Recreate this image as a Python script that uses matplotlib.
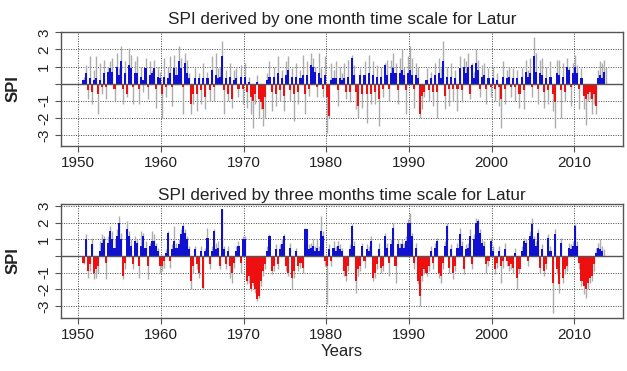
import numpy as np
import matplotlib
matplotlib.use("Agg")
import matplotlib.pyplot as plt

plt.rcParams['font.family'] = ['Liberation Sans', 'DejaVu Sans']

nan = np.nan
years = list(range(1950, 2014))

# ---- One-month SPI (quarterly readings: 4 values per year) ----
spi1_grey = [
    nan, nan, 0.4, 1.1,   -0.9, 1.6, -1.2, 0.8,   1.6, -1.8, 1.2, -0.6,   1.4, -0.9, 1.0, 1.3,
    1.5, -1.0, 1.8, 0.9,   2.2, -1.2, 1.3, -0.8,   2.1, 1.7, -1.2, 1.3,   1.6, -1.2, 1.0, -0.5,
    1.5, -0.9, 1.3, 0.8,   1.4, -1.4, 1.0, 0.7,   -2.0, 1.5, -0.8, 1.0,   1.6, -1.3, 1.7, 1.0,
    2.2, 1.5, -1.8, 1.8,   1.4, 0.6, -1.8, -1.2,   0.9, -1.6, 0.6, -1.2,   1.2, -1.5, 0.7, -1.0,
    1.6, -1.0, 1.8, 0.9,   1.0, 2.5, -1.8, 0.8,   -1.0, 1.2, -1.4, 0.8,   0.9, -0.8, 1.1, -1.2,
    1.2, -1.4, 0.4, -1.8,   -2.6, -1.2, 0.5, -2.0,   -1.5, -2.5, -2.0, 0.6,   1.3, -1.6, 1.0, -1.3,
    1.6, -1.0, 0.8, -1.6,   1.3, 1.6, -1.0, 0.9,   -2.2, 1.2, -1.2, 0.8,   1.7, -1.8, 1.3, -0.7,
    1.8, 1.5, 1.0, -0.8,   1.8, 0.9, -0.8, 1.6,   -2.9, -2.0, 1.2, 0.8,   1.3, -1.3, 1.0, 0.6,
    1.2, -0.9, 1.4, -1.1,   1.7, 1.1, -1.5, -2.0,   0.9, -1.4, 1.3, -2.3,   1.7, -1.2, 1.3, -1.2,
    1.1, -2.5, 1.0, -0.8,   1.2, 1.4, -1.0, 1.4,   1.8, 1.2, -1.2, 1.5,   2.0, 1.0, -1.8, 1.6,
    2.2, 1.5, -1.4, 1.2,   1.0, -2.0, -1.5, -0.8,   0.9, -1.0, 0.7, -1.3,   1.2, -2.0, 1.5, 0.9,
    2.5, -1.5, 1.0, -1.3,   1.2, -1.0, 0.8, -1.6,   1.6, -1.1, 1.5, 1.3,   1.8, -0.9, 1.2, 0.7,
    2.0, 1.4, -0.8, 1.1,   1.2, -1.2, 0.9, -0.8,   1.0, -1.0, 0.6, -1.3,   -2.6, 1.3, -1.2, 0.8,
    1.0, -0.8, 0.9, -1.0,   0.8, -1.4, 0.9, -1.5,   1.4, 0.8, 1.5, -0.8,   2.7, 1.8, -1.2, 1.4,
    1.5, -1.4, 1.0, -1.2,   1.3, -1.6, -2.6, 1.4,   1.4, -2.0, 1.2, -1.0,   1.5, 1.0, -1.3, 1.2,
    1.7, 1.1, -1.5, 0.9,   -1.5, -2.4, -1.0, -0.9,   -1.8, -1.2, -1.8, 0.8,   1.3, 1.2, 1.4, 1.0,
]
spi1_col = [
    nan, nan, 0.2, 0.6,   -0.4, 0.3, -0.5, 0.2,   0.3, -0.6, 0.2, -0.2,   0.6, -0.2, 0.7, 0.9,
    0.7, -0.3, 1.0, 0.5,   1.3, -0.3, 0.6, -0.6,   1.1, 0.9, -0.2, 0.6,   0.6, -0.3, 0.4, 0.2,
    0.9, -0.2, 0.5, 0.6,   0.9, -0.3, 0.4, 0.3,   -0.6, 0.4, -0.2, 0.3,   0.6, -0.2, 0.9, 0.5,
    1.3, 0.9, -0.2, 1.2,   0.6, 0.3, -1.2, -0.6,   0.3, -0.6, 0.3, -0.4,   0.3, -0.8, 0.3, -0.4,
    0.8, -0.2, 0.5, 0.3,   0.4, 1.6, -0.4, 0.3,   -0.6, 0.4, -0.9, 0.2,   0.3, -0.3, 0.4, -0.3,
    0.4, -0.5, 0.1, -0.8,   -1.0, -0.6, 0.1, -0.9,   -1.1, -1.5, -0.8, 0.2,   0.4, -0.5, 0.4, -0.6,
    0.6, -0.4, 0.3, -0.7,   0.5, 0.8, -0.4, 0.4,   -0.6, 0.4, -0.5, 0.3,   0.5, -0.6, 0.5, -0.3,
    1.1, 1.0, 0.7, -0.2,   0.6, 0.3, -0.3, 0.5,   -0.8, -1.9, 0.2, 0.3,   0.3, -0.4, 0.3, 0.2,
    0.3, -0.5, 0.4, -0.5,   1.5, 0.5, -0.5, -1.3,   0.5, -0.6, 0.5, -0.6,   0.6, -0.6, 0.5, -0.5,
    0.4, -0.9, 0.4, -0.3,   1.1, 0.5, -0.3, 0.6,   0.9, 0.6, -0.4, 0.6,   0.8, 0.5, -0.4, 0.6,
    0.8, 0.5, -0.3, 0.5,   0.3, -1.8, -0.7, -0.5,   0.2, -0.4, 0.3, -0.5,   0.5, -0.5, 0.6, 0.3,
    1.3, -0.7, 0.4, -0.3,   0.4, -0.3, 0.3, -0.3,   0.9, -0.4, 1.0, 0.6,   1.0, -0.6, 1.1, 0.3,
    1.2, 0.8, -0.3, 0.4,   0.5, -0.3, 0.3, -0.2,   0.3, -0.3, 0.2, -0.2,   -0.9, 0.4, -0.3, 0.3,
    0.4, -0.2, 0.3, -0.2,   0.3, -0.6, 0.4, -0.4,   0.7, 0.4, 0.6, -0.2,   1.6, 0.7, -0.3, 0.6,
    0.5, -0.5, 0.3, -0.4,   0.4, -0.6, -1.1, 0.6,   0.5, -0.4, 0.4, -0.5,   1.0, 0.8, -0.2, 0.6,
    1.0, 0.6, -0.3, 0.3,   -0.7, -0.9, -0.6, -0.5,   -0.9, -0.6, -1.3, 0.3,   0.5, 0.3, 0.7, nan,
]

# ---- Three-month SPI (quarterly readings: 4 values per year) ----
spi3_grey = [
    nan, nan, -0.5, 1.3,   -1.3, -0.9, 1.1, -1.4,   -1.3, -1.0, 0.9, 1.3,   1.2, -1.4, 1.2, 1.8,
    1.5, 1.0, 1.6, 2.4,   1.4, -1.4, -0.8, 2.1,   1.5, 1.0, -0.8, 1.2,   1.0, -1.3, 1.5, 1.4,
    0.9, -1.4, 0.8, 1.5,   1.3, 0.8, 0.5, -1.0,   -0.9, -0.7, 0.4, 1.5,   -0.7, 0.7, 1.8, 0.8,
    1.0, 1.6, 1.9, 1.6,   1.2, 0.6, -2.0, -1.0,   0.6, -0.8, -1.3, 0.6,   -2.0, 0.5, 1.7, -0.8,
    0.6, 1.6, 0.8, 0.9,   -0.8, 2.8, 0.6, -0.8,   0.6, -1.3, -1.6, -0.7,   0.6, 0.9, -1.0, 1.2,
    1.2, -1.7, -1.6, -2.1,   -1.8, -2.2, -2.7, -2.5,   -1.8, -1.2, -0.8, 0.6,   1.3, -1.1, -0.9, 0.7,
    -0.8, 0.7, 1.0, 1.3,   -0.9, -1.2, 0.8, -2.0,   -1.3, 0.5, -0.9, -0.7,   -1.0, 1.7, 1.6, 0.7,
    0.8, 1.0, 0.6, 1.0,   0.6, 2.4, 1.5, -0.6,   -2.9, 0.7, -0.6, 0.9,   0.6, 0.9, 0.7, 0.5,
    -1.2, -1.5, -0.9, 0.7,   1.9, 0.9, -2.2, -1.2,   -0.9, 0.8, -0.7, 0.7,   0.6, 1.2, -1.5, -1.3,
    -0.8, 0.8, -1.0, -0.9,   1.4, 0.8, -1.2, 1.0,   2.0, -1.6, 1.0, 0.8,   1.0, 0.8, 1.2, 2.2,
    2.6, 1.4, -0.8, 0.8,   -1.7, -3.0, -1.5, -1.1,   -1.2, -0.9, 0.6, -0.8,   0.8, 1.1, -1.3, -1.6,
    -0.8, 0.9, 2.0, -1.0,   0.7, -1.4, -0.9, 0.8,   1.7, 0.9, -1.1, 0.7,   0.8, 1.6, -0.8, 1.3,
    2.3, 2.2, 1.6, 1.0,   0.9, -1.0, -0.6, 1.1,   0.6, -1.1, -0.7, 0.6,   -1.6, -0.7, 0.8, -0.6,
    -0.9, -0.8, -1.0, 0.5,   -2.0, -1.0, 0.6, 1.1,   1.0, -0.6, 1.5, 2.3,   1.2, 0.9, 1.6, -1.0,
    0.7, -1.2, -0.8, 1.3,   0.6, -3.4, 1.6, -1.1,   -2.2, 1.1, -1.6, -1.1,   -0.9, 0.8, 0.7, 0.9,
    1.9, 0.9, -0.8, -1.8,   -2.3, -2.5, -2.0, -1.6,   -1.5, -0.9, 0.5, 0.8,   1.0, 0.6, 0.4, nan,
]
spi3_col = [
    nan, nan, -0.4, 1.0,   -0.9, -0.5, 0.7, -1.0,   -0.8, -0.6, 0.3, 0.8,   1.0, -0.4, 0.8, 1.5,
    1.0, 0.5, 1.2, 2.0,   1.0, -1.2, -0.4, 1.6,   1.2, 0.6, -0.5, 0.9,   0.8, -0.6, 0.6, 1.2,
    0.5, -0.6, 0.6, 0.9,   0.9, 0.6, 0.3, -0.6,   -0.6, -0.3, 0.2, 1.4,   -0.3, 0.4, 0.9, 0.5,
    0.7, 1.3, 1.8, 1.4,   1.0, 0.4, -1.5, -0.6,   0.4, -0.5, -1.0, 0.3,   -1.9, 0.3, 1.1, -0.5,
    0.3, 1.5, 0.4, 0.5,   -0.6, 2.8, 0.4, -0.5,   0.3, -0.6, -1.0, -0.4,   0.3, 0.6, -0.4, 1.0,
    1.0, -1.5, -1.2, -2.0,   -1.6, -2.0, -2.6, -2.4,   -1.5, -0.9, -0.5, 0.3,   1.2, -0.9, -0.6, 0.4,
    -0.5, 0.4, 0.7, 1.2,   -0.6, -1.0, 0.5, -1.3,   -0.9, 0.3, -0.6, -0.4,   -0.7, 1.6, 1.6, 0.4,
    0.5, 0.6, 0.3, 0.5,   0.3, 1.5, 1.2, -0.3,   -0.6, 0.4, -0.3, 0.5,   0.3, 0.6, 0.4, 0.3,
    -0.9, -1.2, -0.6, 0.4,   1.8, 0.6, -1.5, -0.8,   -0.6, 0.6, -0.3, 0.4,   0.3, 0.9, -1.3, -1.0,
    -0.5, 0.4, -0.7, -0.6,   1.2, 0.5, -0.4, 0.7,   1.7, -0.6, 0.7, 0.5,   0.7, 0.5, 0.9, 2.0,
    2.0, 1.2, -0.4, 0.5,   -1.5, -2.4, -1.2, -0.8,   -1.0, -0.6, 0.3, -0.4,   0.5, 0.9, -1.0, -1.2,
    -0.4, 0.6, 1.8, -0.7,   0.4, -1.0, -0.6, 0.5,   1.3, 0.6, -0.8, 0.4,   0.5, 1.2, -0.5, 1.0,
    2.0, 2.1, 1.4, 0.8,   0.6, -0.5, -0.3, 0.9,   0.3, -0.8, -0.4, 0.3,   -0.6, -0.3, 0.4, -0.3,
    -0.6, -0.5, -0.7, 0.2,   -1.3, -0.8, 0.3, 0.9,   0.8, -0.3, 1.2, 1.9,   1.0, 0.6, 1.4, -0.7,
    0.4, -0.9, -0.5, 1.1,   0.3, -1.6, 1.3, -0.8,   -1.7, 0.8, -1.3, -0.8,   -0.6, 0.5, 0.4, 0.6,
    1.8, 0.6, -0.4, -1.5,   -1.8, -2.0, -1.6, -1.3,   -1.2, -0.5, 0.2, 0.5,   0.4, 0.3, nan, nan,
]

titles = ["SPI derived by one month time scale for Latur",
          "SPI derived by three months time scale for Latur"]
xticks = [1950, 1960, 1970, 1980, 1990, 2000, 2010]
yticks = [-3, -2, -1, 0, 1, 2, 3]
ytick_labels = ["-3", "-2", "-1", "", "1", "2", "3"]

# time axis: quarter centres
t = np.array([y + (q + 0.5) / 4.0 for y in years for q in range(4)])

W, H = 627, 371
fig = plt.figure(figsize=(W / 100, H / 100), dpi=100)

def px_axes(l, r, top, bot):
    return fig.add_axes([l / W, 1 - bot / H, (r - l) / W, (bot - top) / H])

axes = [px_axes(61, 623, 32, 146), px_axes(61, 623, 204, 318)]
ylims = [(-3.65, 3.02), (-3.73, 3.13)]
series = [(spi1_grey, spi1_col), (spi3_grey, spi3_col)]
pads = [6, 3]

for ax, (grey, col), title, yl, pad in zip(axes, series, titles, ylims, pads):
    g = np.array(grey, dtype=float)
    c = np.array(col, dtype=float)
    ax.set_xlim(1947.9, 2015.9)
    ax.set_ylim(*yl)
    ax.grid(True, linestyle=(0, (1, 1.5)), color='#444444', linewidth=0.7, zorder=0)
    ax.set_axisbelow(True)
    ok = ~np.isnan(g)
    ax.vlines(t[ok], 0, g[ok], color='#adadad', linewidth=1.0, zorder=2)
    okc = ~np.isnan(c)
    colors = np.where(c[okc] >= 0, '#1010d0', '#ee1010')
    ax.bar(t[okc], c[okc], width=0.25, color=colors, linewidth=0, zorder=3)
    ax.axhline(0, color='#555555', linewidth=1.0, zorder=4)
    ax.set_xticks(xticks)
    ax.set_xticklabels([str(x) for x in xticks])
    ax.set_yticks(yticks)
    ax.set_yticklabels(ytick_labels, rotation=90, va='center')
    ax.tick_params(axis='both', labelsize=11, length=4, color='#555555',
                   colors='#222222', pad=3)
    for s in ax.spines.values():
        s.set_color('#555555')
        s.set_linewidth(1.0)
    ax.set_title(title, fontsize=12.3, pad=pad, color='#222222')
    ax.set_ylabel("SPI", fontsize=12, fontweight='bold', color='#222222')
    ax.yaxis.set_label_coords(-0.072, 0.5)

axes[1].set_xlabel("Years", fontsize=12, color='#222222', labelpad=2)

fig.savefig("out.png", dpi=100)
